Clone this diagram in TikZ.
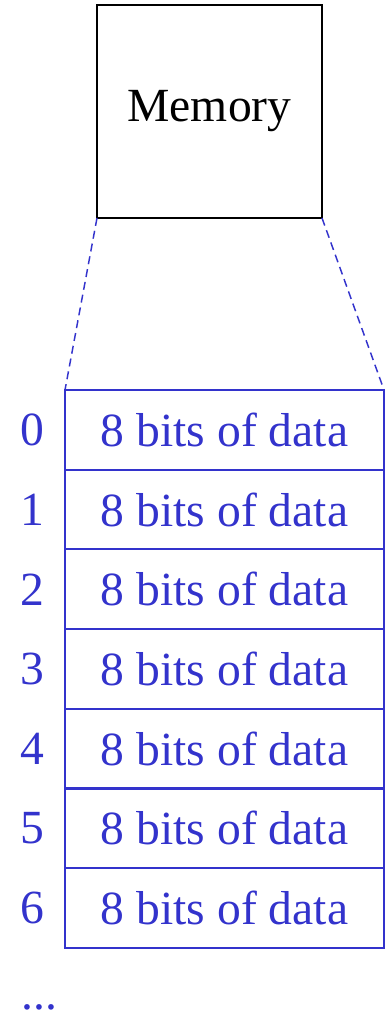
\documentclass[tikz,border=0pt]{standalone}
\usepackage{fontspec}
\setmainfont{Liberation Serif}
\newfontfamily\timesfont{Liberation Serif}
\definecolor{cellblue}{HTML}{3333CC}
\begin{document}
\begin{tikzpicture}[x=0.75pt,y=-0.75pt,
  bigfont/.style={font=\timesfont\fontsize{35.7}{40}\selectfont},
  membox/.style={draw=black,line width=1.4pt,minimum width=168.75pt,minimum height=159.75pt,inner sep=0pt,outer sep=0pt,bigfont},
  cellbox/.style={draw=cellblue,line width=1.5pt,minimum width=239.25pt,minimum height=59.8pt,inner sep=0pt,outer sep=0pt,text=cellblue,bigfont},
  idx/.style={text=cellblue,bigfont,inner sep=0pt},
  zoomline/.style={draw=cellblue,line width=1.1pt,dash pattern=on 6pt off 3.75pt}]
\useasboundingbox (0,0) rectangle (385,1013);
\node[membox] (mem) at (209.5,111.5) {Memory};
\foreach \i in {0,...,6}{
  \node[cellbox] (c\i) at (224.5,{390+79.7*(\i+0.5)}) {8 bits of data};
  \node[idx] (n\i) at (32,{390+79.7*(\i+0.5)}) {\i};
}
\node[idx,anchor=base west,text depth=0pt] (dots) at (21,1009) {...};
\draw[zoomline] (mem.south west) -- (c0.north west);
\draw[zoomline] (mem.south east) -- (c0.north east);
\end{tikzpicture}
\end{document}
